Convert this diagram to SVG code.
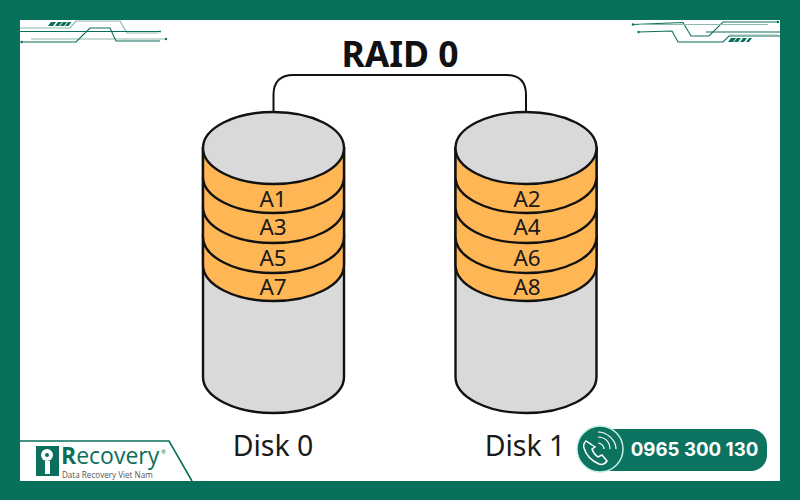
<svg xmlns="http://www.w3.org/2000/svg" width="800" height="500" viewBox="0 0 800 500">
<style>
.o{fill:#ffb655;stroke:#111;stroke-width:2.4}
.g{fill:#d9d9d9;stroke:#111;stroke-width:2.4}
.t{font-family:"Noto Sans","Open Sans",sans-serif;fill:#1a1a1a;text-anchor:middle}
.l{font-size:22.500px}
.d{font-size:28.500px}
.c1{fill:none;stroke:#0a6f5c;stroke-width:1.1}
.c2{fill:none;stroke:#8fb8ae;stroke-width:1.2}
.h{fill:#0a6f5c}
</style>
<defs>
<g id="stack">
<path class="g" d="M-70.5 36V265A70.5 36 0 0 0 70.5 265V36Z"/>
<path class="o" d="M-70.5 124V153A70.5 36 0 0 0 70.5 153V124Z"/>
<path class="o" d="M-70.5 96V125A70.5 36 0 0 0 70.5 125V96Z"/>
<path class="o" d="M-70.5 66V95A70.5 36 0 0 0 70.5 95V66Z"/>
<path class="o" d="M-70.5 36V65A70.5 36 0 0 0 70.5 65V36Z"/>
<ellipse class="g" cx="0" cy="36" rx="70.5" ry="36"/>
</g>
</defs>
<rect width="800" height="500" fill="#06705b"/>
<rect x="20" y="20" width="760" height="461" fill="#fff"/>
<g id="connectors">
<path d="M273.500 112V95Q273.500 75 293.500 75H506Q526 75 526 95V112" fill="none" stroke="#111" stroke-width="2"/>
</g>
<text class="t" x="400" y="67" font-size="35.500" font-weight="700" style="fill:#111">RAID 0</text>
<g id="disk0">
<use href="#stack" x="273.500" y="112"/>
<text class="t l" x="273" y="207">A1</text>
<text class="t l" x="273" y="235">A3</text>
<text class="t l" x="273" y="266">A5</text>
<text class="t l" x="273" y="295">A7</text>
<text class="t d" x="273" y="456">Disk 0</text>
</g>
<g id="disk1">
<use href="#stack" x="526" y="112"/>
<text class="t l" x="527" y="207">A2</text>
<text class="t l" x="527" y="235">A4</text>
<text class="t l" x="527" y="266">A6</text>
<text class="t l" x="527" y="295">A8</text>
<text class="t d" x="525" y="456">Disk 1</text>
</g>
<g id="circuit-left">
<path class="c2" d="M20 28H70L76 21H120L127 33H158"/>
<path class="c1" d="M20 31.500H160"/>
<path class="c2" d="M31 39H166"/>
<path class="c1" d="M21 42H76L90 28H110L116 41H160"/>
<path class="h" d="M48 26l3-4h5l-3 4zM55 26l3-4h4l-3 4zM60 26l3-4h4l-3 4zM65 26l3-4h3.500l-3 4z"/>
<circle class="h" cx="160" cy="31.500" r="1"/><circle class="h" cx="166" cy="39" r="1.200"/><circle class="h" cx="21.500" cy="42" r="1.200"/>
</g>
<g id="circuit-right">
<path class="c1" d="M633 24.500L683 22.500L691 36H709L723 22H778"/>
<path class="c2" d="M639 24.500H768"/>
<path class="c1" d="M638 32L672 31L678 42H723L729 36H780M706 32H780"/>
<path class="c2" d="M729 35H778"/>
<path class="h" d="M728 42l3-4h5l-3 4zM734 42l3-4h4l-3 4zM740 42l3-4h4l-3 4zM746 42l3-4h3l-3 4z"/>
<circle class="h" cx="633" cy="24.500" r="1.200"/><circle class="h" cx="638.500" cy="32" r="1.200"/><circle class="h" cx="778" cy="22" r="1.200"/>
</g>
<g id="logo">
<path d="M20 441H169L192 481" fill="none" stroke="#0a6f5c" stroke-width="1.6"/>
<rect x="36" y="446" width="23" height="30" fill="#0a6f5c"/>
<circle cx="47" cy="455" r="6" fill="#fff"/>
<circle cx="47" cy="455" r="2" fill="#0a6f5c"/>
<rect x="45" y="461" width="5" height="13" fill="#fff"/>
<text x="61" y="464" font-family="Open Sans,sans-serif" font-size="23" fill="#0a6f5c"><tspan font-weight="700">R</tspan>ecovery</text>
<text x="161" y="454" font-family="Open Sans,sans-serif" font-size="6" fill="#0a6f5c">®</text>
<text x="62" y="478" font-family="Open Sans,sans-serif" font-size="8.100" fill="#555">Data Recovery Viet Nam</text>
</g>
<g id="phone">
<rect x="590" y="429" width="177" height="42" rx="16" fill="#0d7361"/>
<circle cx="600" cy="449" r="23" fill="#0d7361" stroke="#c5f0e6" stroke-width="1.500"/>
<path d="M586 441c-2 2-3 4-2 7 2 7 8 13 15 16 3 1 6 0 8-3l-5-6-4 2c-3-2-5-5-6-8l3-2Z" fill="none" stroke="#fff" stroke-width="1.500"/>
<path d="M598 443c3 0 6 3 6 6M598 437c7 0 12 5 12 12M598 432c9 0 18 8 18 17" fill="none" stroke="#fff" stroke-width="1.200"/>
<text x="694.500" y="456" font-family="Inter,sans-serif" font-size="18.700" font-weight="700" fill="#fff" text-anchor="middle">0965 300 130</text>
</g>
</svg>
